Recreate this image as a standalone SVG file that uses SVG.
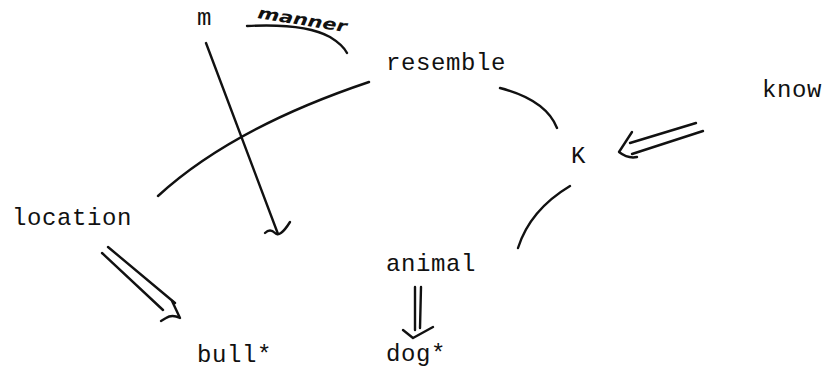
<svg xmlns="http://www.w3.org/2000/svg" width="828" height="371" viewBox="0 0 828 371">
<style>
.t{font-family:"Liberation Mono","Courier New",monospace;font-size:24px;letter-spacing:0.6px;fill:#111}
.h{font-family:"DejaVu Sans",sans-serif;font-style:italic;font-weight:bold;font-size:16px;fill:#111}
.c{fill:none;stroke:#111;stroke-width:2.4;stroke-linecap:round;stroke-linejoin:round}
</style>
<rect width="828" height="371" fill="#fff"/>
<g id="connectors">
<path class="c" d="M158,196 Q232,128 369,82"/>
<path class="c" d="M206,43 L278,234"/>
<path class="c" d="M265,233 Q270,228 275,233 Q280,238 290,222"/>
<path class="c" d="M247,26 Q305,23 330,37 Q343,45 347,53"/>
<path class="c" d="M500,88 Q546,100 557,128"/>
<path class="c" d="M570,186 Q530,210 518,248"/>
<path class="c" d="M696,123 L630,143"/>
<path class="c" d="M703,131 L632,154"/>
<path class="c" d="M632,132 L619,152 Q628,159 637,157"/>
<path class="c" d="M108,247 L175,303"/>
<path class="c" d="M102,253 L163,310"/>
<path class="c" d="M172,301 L180,318 Q172,314 166,318 L161,321"/>
<path class="c" d="M415,287 L415,330"/>
<path class="c" d="M421,287 L420,328"/>
<path class="c" d="M403,330 L413,338 L433,327"/>
</g>
<g id="n-m"><text class="t" x="197" y="25">m</text></g>
<g id="n-manner"><text class="h" x="257" y="18" textLength="90" lengthAdjust="spacingAndGlyphs" transform="rotate(9 257 18)">manner</text></g>
<g id="n-resemble"><text class="t" x="386" y="70">resemble</text></g>
<g id="n-know"><text class="t" x="762" y="97">know</text></g>
<g id="n-K"><text class="t" x="571" y="163">K</text></g>
<g id="n-location"><text class="t" x="12" y="225">location</text></g>
<g id="n-animal"><text class="t" x="386" y="271">animal</text></g>
<g id="n-bull"><text class="t" x="197" y="362">bull*</text></g>
<g id="n-dog"><text class="t" x="386" y="361">dog*</text></g>
</svg>
